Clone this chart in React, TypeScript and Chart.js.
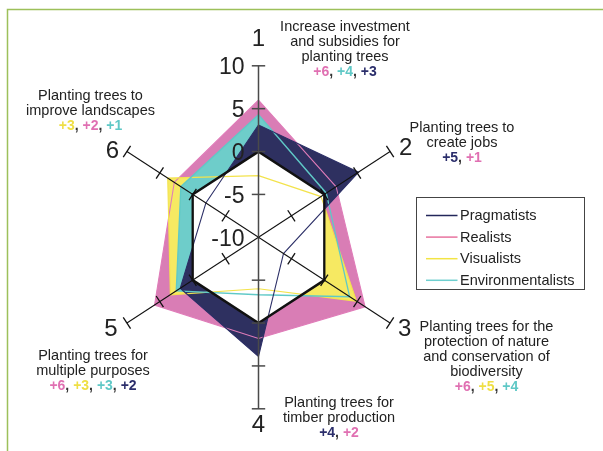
import React, { useEffect, useRef } from 'react';
import { Chart, registerables, RadarController } from 'chart.js';

Chart.register(...registerables);

// Radar controller whose area can be left unshaded in chosen sectors
// (sector j = the wedge between axis j and axis j+1).
class SectorRadarController extends (RadarController as any) {
  static id = 'sectorRadar';
  update(mode: any) {
    super.update(mode);
    const self: any = this;
    const open: number[] | undefined = self.getDataset().unshadedSectors;
    const line = self._cachedMeta.dataset;
    const n = line && line.points ? line.points.length : 0;
    if (!open || !open.length || !n) return;
    const isOpen = (i: number) => open.includes(((i % n) + n) % n);
    let s0 = -1;
    for (let i = 0; i < n; i++) {
      if (isOpen(i) !== isOpen(i - 1)) {
        s0 = i;
        break;
      }
    }
    if (s0 < 0) return;
    const segs: any[] = [];
    let start = s0;
    for (let k = 1; k <= n; k++) {
      const i = s0 + k;
      if (k === n || isOpen(i) !== isOpen(i - 1)) {
        segs.push({
          start: start % n,
          end: i % n,
          loop: false,
          style: isOpen(i - 1) ? { backgroundColor: 'rgba(0,0,0,0)' } : {},
        });
        start = i;
      }
    }
    line._segments = segs;
    line._path = undefined;
  }
}
Chart.register(SectorRadarController as any);

// ---------------- data ----------------
const axisLabels = ['1', '2', '3', '4', '5', '6'];
const pragmatists = [3.1, 5.2, -6.2, 3.9, 1.9, -2.0];
const realists = [6.0, 1.8, 6.2, 1.8, 5.8, 2.8];
const visualists = [-2.8, -0.5, 4.9, -4.0, 3.4, 3.8];
const environmentalists = [4.3, 0.3, 3.85, -3.3, 2.5, 1.8];
const zeroRing = [0, 0, 0, 0, 0, 0];
const scaleTickLabels = [10, 5, 0, -5, -10];
const axisTickMarks = [-5, 0, 5, 10];
const seriesNames = ['Pragmatists', 'Realists', 'Visualists', 'Environmentalists'];
const axisTitles = [
  ['Increase investment', 'and subsidies for', 'planting trees'],
  ['Planting trees to', 'create jobs'],
  ['Planting trees for the', 'protection of nature', 'and conservation of', 'biodiversity'],
  ['Planting trees for', 'timber production'],
  ['Planting trees for', 'multiple purposes'],
  ['Planting trees to', 'improve landscapes'],
];
// [text, series index] ; series index: 0 Pragmatists, 1 Realists, 2 Visualists, 3 Environmentalists
const axisScores: [string, number][][] = [
  [['+6', 1], ['+4', 3], ['+3', 0]],
  [['+5', 0], ['+1', 1]],
  [['+6', 1], ['+5', 2], ['+4', 3]],
  [['+4', 0], ['+2', 1]],
  [['+6', 1], ['+3', 2], ['+3', 3], ['+2', 0]],
  [['+3', 2], ['+2', 1], ['+1', 3]],
];
// sectors where the Environmentalists area is left unshaded (2->3 and 3->4)
const tealOpenSectors = [1, 2];

// ---------------- styles / layout ----------------
const lineColors = ['#2b2e66', '#e07cb9', '#f3e34c', '#5fc9c7'];
const fillColors = ['#2e3060', '#d97db5', '#f6e962', '#6ecdca'];
const scoreColors = ['#2b2e6b', '#e070b2', '#efdf45', '#5fc8c6'];
const legendColors = ['#23275a', '#e8739f', '#f2e445', '#6ecfcf'];
const AXIS_V = '#4a4a4a';
const AXIS_D = '#111111';
const TEXT = '#222222';
const FONT = "'Liberation Sans', Arial, Helvetica, sans-serif";

const CX = 258.5;
const CY = 237.3;
const R = 171.5;
const K = 0.886; // horizontal compression of the radar drawing
const TICK_HALF = 6.7;

const titleBlocks = [
  { x: 345, y: 31 },
  { x: 462, y: 132 },
  { x: 486.5, y: 331 },
  { x: 339, y: 407 },
  { x: 93, y: 360 },
  { x: 90.5, y: 100 },
];
const LINE_H = 15;
const numberOffsets = [
  [0, -28],
  [15.5, -5],
  [14.5, 4.5],
  [0, 14.5],
  [-16, 4],
  [-14.5, -2.5],
];
const legendBox = { x: 416.5, y: 197.5, w: 168, h: 92 };

function sqx(x: number) {
  return CX + K * (x - CX);
}

const overlay = {
  id: 'overlay',
  beforeDraw(chart: any) {
    const ctx = chart.ctx;
    ctx.save();
    ctx.translate(CX * (1 - K), 0);
    ctx.scale(K, 1);
  },
  afterDraw(chart: any) {
    const ctx: CanvasRenderingContext2D = chart.ctx;
    ctx.restore();
    const sc = chart.scales.r;
    const n = axisLabels.length;
    ctx.save();

    // frame
    ctx.strokeStyle = '#9dc05a';
    ctx.lineWidth = 1.5;
    ctx.beginPath();
    ctx.moveTo(7.5, 460);
    ctx.lineTo(7.5, 9.5);
    ctx.lineTo(610, 9.5);
    ctx.stroke();

    // tick marks on every axis
    for (let i = 0; i < n; i++) {
      const vertical = i % 3 === 0;
      const ang = sc.getIndexAngle(i) - Math.PI / 2;
      let ux = K * Math.cos(ang);
      let uy = Math.sin(ang);
      const l = Math.hypot(ux, uy);
      ux /= l;
      uy /= l;
      const nx = -uy;
      const ny = ux;
      ctx.strokeStyle = vertical ? AXIS_V : AXIS_D;
      ctx.lineWidth = vertical ? 1.5 : 1.3;
      for (const v of axisTickMarks) {
        const p = sc.getPointPositionForValue(i, v);
        const x = sqx(p.x);
        const y = p.y;
        ctx.beginPath();
        ctx.moveTo(x - nx * TICK_HALF, y - ny * TICK_HALF);
        ctx.lineTo(x + nx * TICK_HALF, y + ny * TICK_HALF);
        ctx.stroke();
      }
    }

    // scale numbers along axis 1
    ctx.fillStyle = TEXT;
    ctx.font = `23px ${FONT}`;
    ctx.textAlign = 'right';
    ctx.textBaseline = 'alphabetic';
    for (const v of scaleTickLabels) {
      const p = sc.getPointPositionForValue(0, v);
      ctx.fillText(String(v), CX - 14, p.y + 8.3);
    }

    // axis numbers
    ctx.font = `24px ${FONT}`;
    ctx.textAlign = 'center';
    for (let i = 0; i < n; i++) {
      const p = sc.getPointPositionForValue(i, sc.max);
      const x = sqx(p.x) + numberOffsets[i][0];
      const y = p.y + numberOffsets[i][1];
      ctx.fillText(axisLabels[i], x, y + 8.6);
    }

    // descriptions
    for (let i = 0; i < n; i++) {
      const b = titleBlocks[i];
      ctx.font = `14.5px ${FONT}`;
      ctx.fillStyle = TEXT;
      ctx.textAlign = 'center';
      const lines = axisTitles[i];
      lines.forEach((t, j) => ctx.fillText(t, b.x, b.y + j * LINE_H));
      const sy = b.y + lines.length * LINE_H;
      ctx.font = `bold 14px ${FONT}`;
      ctx.textAlign = 'left';
      const parts: [string, string][] = [];
      axisScores[i].forEach((s, j) => {
        if (j > 0) parts.push([', ', '#333333']);
        parts.push([s[0], scoreColors[s[1]]]);
      });
      const total = parts.reduce((a, p) => a + ctx.measureText(p[0]).width, 0);
      let x = b.x - total / 2;
      for (const [t, c] of parts) {
        ctx.fillStyle = c;
        ctx.fillText(t, x, sy);
        x += ctx.measureText(t).width;
      }
    }

    // legend
    ctx.strokeStyle = '#444444';
    ctx.lineWidth = 1;
    ctx.strokeRect(legendBox.x, legendBox.y, legendBox.w, legendBox.h);
    ctx.font = `14.5px ${FONT}`;
    ctx.textAlign = 'left';
    ctx.textBaseline = 'middle';
    seriesNames.forEach((name, j) => {
      const y = legendBox.y + 18 + j * 21.6;
      ctx.strokeStyle = legendColors[j];
      ctx.lineWidth = 1.5;
      ctx.beginPath();
      ctx.moveTo(legendBox.x + 9.5, y);
      ctx.lineTo(legendBox.x + 41, y);
      ctx.stroke();
      ctx.fillStyle = TEXT;
      ctx.fillText(name, legendBox.x + 43.5, y + 0.5);
    });

    ctx.restore();
  },
};

export default function App() {
  const ref = useRef<HTMLCanvasElement>(null);

  useEffect(() => {
    if (!ref.current) return;
    const chart = new Chart(ref.current, {
      type: 'sectorRadar' as any,
      data: {
        labels: axisLabels,
        datasets: [
          {
            label: 'zero',
            data: zeroRing,
            fill: 'start',
            backgroundColor: '#ffffff',
            borderWidth: 0,
            pointRadius: 0,
          },
          {
            label: seriesNames[0],
            data: pragmatists,
            fill: 'origin',
            backgroundColor: fillColors[0],
            borderColor: lineColors[0],
            borderWidth: 1.2,
            pointRadius: 0,
          },
          {
            label: seriesNames[3],
            data: environmentalists,
            fill: 'origin',
            backgroundColor: fillColors[3],
            borderColor: lineColors[3],
            borderWidth: 1.5,
            pointRadius: 0,
            unshadedSectors: tealOpenSectors,
          },
          {
            label: seriesNames[2],
            data: visualists,
            fill: 'origin',
            backgroundColor: fillColors[2],
            borderColor: lineColors[2],
            borderWidth: 1.2,
            pointRadius: 0,
          },
          {
            label: seriesNames[1],
            data: realists,
            fill: 'origin',
            backgroundColor: fillColors[1],
            borderColor: lineColors[1],
            borderWidth: 1.2,
            pointRadius: 0,
          },
        ],
      } as any,
      options: {
        animation: false,
        responsive: true,
        maintainAspectRatio: false,
        events: [],
        plugins: {
          legend: { display: false },
          tooltip: { enabled: false },
          filler: { drawTime: 'beforeDatasetsDraw', propagate: false },
        } as any,
        elements: { line: { tension: 0 }, point: { radius: 0 } },
        scales: {
          r: {
            type: 'radialLinear',
            min: -10,
            max: 10,
            startAngle: 0,
            ticks: { display: false, stepSize: 5 },
            pointLabels: { display: false },
            border: { display: false },
            grid: {
              z: 1,
              color: '#111111',
              lineWidth: (c: any) => (c.tick && c.tick.value === 0 ? 2.6 : 0),
            },
            angleLines: {
              color: (c: any) => (c.index % 3 === 0 ? AXIS_V : AXIS_D),
              lineWidth: (c: any) => (c.index % 3 === 0 ? 1.7 : 1.3),
            },
            afterFit: (s: any) => {
              s.xCenter = CX;
              s.yCenter = CY;
              s.drawingArea = R;
            },
          } as any,
        },
      } as any,
      plugins: [overlay],
    });
    return () => chart.destroy();
  }, []);

  return (
    <div style={{ position: 'absolute', left: 0, top: 0, width: 603, height: 451 }}>
      <canvas ref={ref} style={{ display: 'block' }} />
    </div>
  );
}
